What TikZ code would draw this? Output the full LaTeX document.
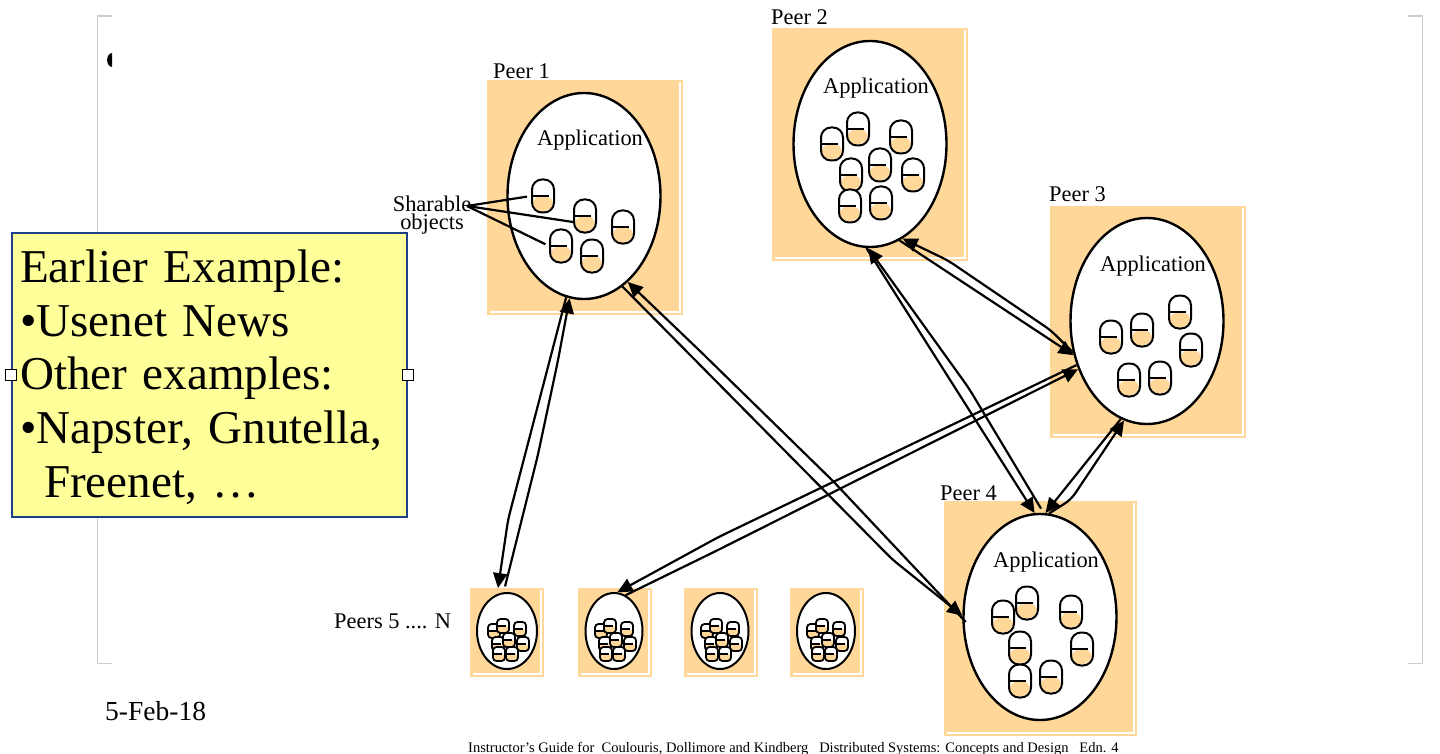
\documentclass[tikz,border=0pt]{standalone}
\usepackage{fontspec}
\setmainfont{Liberation Serif}
\usepackage{tikz}
\usetikzlibrary{arrows.meta,positioning,calc,shapes.geometric}
\definecolor{peerorange}{HTML}{FFD899}
\definecolor{notefill}{HTML}{FFFF99}
\definecolor{noteline}{HTML}{1F3F87}
\definecolor{framegray}{HTML}{CCCCCC}
\tikzset{
  peerbox/.style={fill=peerorange, inner sep=0pt,
    path picture={\draw[white, line width=1.2pt]
      ([xshift=-3pt,yshift=-2pt]path picture bounding box.north east) --
      ([xshift=-3pt,yshift=3pt]path picture bounding box.south east) --
      ([xshift=3pt,yshift=3pt]path picture bounding box.south west);}},
  peerblob/.style={draw, ellipse, fill=white, line width=2.4pt, inner sep=0pt},
  pill/.style={draw, fill=white, line width=2pt, inner sep=0pt, rounded corners=10pt,
    minimum width=22pt, minimum height=33pt,
    path picture={
      \fill[peerorange] (path picture bounding box.west) -- (path picture bounding box.east)
        -- ($(path picture bounding box.east)!0.55!(path picture bounding box.south east)$)
        -- ($(path picture bounding box.south)!0.5!(path picture bounding box.south east)$)
        -- (path picture bounding box.south west) -- cycle;
      \draw[line width=1.9pt] (path picture bounding box.west) --
        ($(path picture bounding box.west)!0.78!(path picture bounding box.east)$);}},
  minipill/.style={pill, line width=1.8pt, rounded corners=3.5pt, minimum width=12pt, minimum height=14pt},
  link/.style={-{Triangle[length=15pt,width=14pt]}, line width=2.2pt, rounded corners=7pt},
  pointer/.style={line width=2.2pt},
  lbl/.style={font=\fontsize{22.4}{18}\selectfont, align=center, inner sep=0pt},
  notebox/.style={draw=noteline, fill=notefill, line width=2pt, inner xsep=8pt, inner ysep=0pt, text width=379pt,
    minimum height=284pt, align=left, font=\fontsize{47.1}{53.8}\selectfont},
  handle/.style={draw, fill=white, line width=0.8pt, minimum size=11pt, inner sep=0pt},
  frameline/.style={draw=framegray, line width=1.8pt}
}
\begin{document}
\begin{tikzpicture}[x=1pt,y=-1pt]
  \useasboundingbox (0,0) rectangle (1440,754);
  % slide frame and the cut off bullet
  \draw[frameline] (112,16) -- (97.5,16) -- (97.5,663.5) -- (112,663.5);
  \draw[frameline] (1408,16) -- (1422.5,16) -- (1422.5,663.5) -- (1408,663.5);
  \fill (112,53) .. controls (105.5,54) and (105.5,66) .. (112,67) -- cycle;
  % the four big peers
  \foreach \n/\bx/\by/\bw/\bh/\ex/\ey in {1/585/197.5/196/235/584/196, 2/870/144.5/196/233/870/144,
      3/1148/322/196/232/1147/321, 4/1040.5/618.5/193/235/1040/617}{
    \node[peerbox, minimum width=\bw pt, minimum height=\bh pt] (box\n) at (\bx,\by) {};
    \node[peerblob, minimum width=153pt, minimum height=206pt] (p\n) at (\ex,\ey) {};
    \node[lbl, anchor=base] (app\n) at ([xshift=6pt,yshift=50pt]p\n.center) {Application};
  }
  \node[lbl, anchor=base west] (peer1) at (493,79) {Peer 1};
  \node[lbl, anchor=base west] (peer2) at (771,25) {Peer 2};
  \node[lbl, anchor=base west] (peer3) at (1049,202) {Peer 3};
  \node[lbl, anchor=base west] (peer4) at (940,500) {Peer 4};
  % sharable objects inside each peer
  \foreach \x/\y [count=\i] in {543/196, 585/216, 623/227, 561/246, 592/256}
    \node[pill] (a\i) at (\x,\y) {};
  \foreach \x/\y [count=\i] in {832/144, 858/129, 901/137, 851/175, 880/165, 913/175, 850/206, 881/203}
    \node[pill] (b\i) at (\x,\y) {};
  \foreach \x/\y [count=\i] in {1111/337, 1142/330, 1180/312, 1191/350, 1129/380, 1160/378}
    \node[pill] (c\i) at (\x,\y) {};
  \foreach \x/\y [count=\i] in {1003/617, 1027/603, 1071/612, 1020/648, 1082/649, 1020/681, 1051/677}
    \node[pill] (d\i) at (\x,\y) {};
  % the small peers
  \foreach \n/\bx/\ex/\ew in {1/507/507/60, 2/615/614/57, 3/721/720/57, 4/827/826/58}{
    \node[peerbox, minimum width=74pt, minimum height=89pt] (sbox\n) at (\bx,632.5) {};
    \node[peerblob, line width=2pt, minimum width=\ew pt, minimum height=76pt] (s\n) at (\ex,631) {};
    \foreach \dx/\dy [count=\i] in {-13/0, -4/-5, 13/-2, -9/13, 2/9, 16/13, -8/23, 5/23}
      \node[minipill] (s\n-\i) at (\ex+\dx,631+\dy) {};
  }
  \node[lbl, anchor=base west] (rest) at (334,628) {Peers 5 .... N};
  % pointers from the label to the objects
  \node[lbl] (shr) at (432,215) {Sharable\\objects};
  \coordinate (shrtip) at (467,206);
  \draw[pointer, shorten >=4pt] (shrtip) -- (a1.west);
  \draw[pointer] (shrtip) -- ([yshift=-6pt]a2.west);
  \draw[pointer, shorten >=4pt] (shrtip) -- (a4.west);
  % links, one line for each direction
  \draw[link, shorten >=6pt] (p1.-100) -- ++(-58,222) -- (s1.105);
  \draw[link, shorten <=6pt] (s1.95) -- ++(34,-136) -- ++(20,-94) -- (p1.-98);
  \draw[link] (p1.-67) -- ++(270,273) -- (p4.179);
  \draw[link, shorten <=-5pt] (p4.181) -- ++(-128,-136) -- ++(-135,-132) -- (p1.-63);
  \draw[link] (p3.212) -- ++(-358,172) -- (s2.85);
  \draw[link] (s2.72) -- ++(90,-44) -- (p3.215);
  \draw[link] (p2.-92) -- (p4.93);
  \draw[link, shorten <=5pt] (p4.88) -- ++(-75,-125) -- (p2.-91);
  \draw[link] (p3.203) -- ++(-22,-22) -- ++(-103,-70) -- (p2.-71);
  \draw[link] (p2.-73) -- (p3.205);
  \draw[link] (p3.255) -- (p4.87);
  \draw[link] (p4.85) -- ++(22,-14) -- (p3.257);
  % note on top
  \node[notebox] (note) at (209.5,375) {\rule{0pt}{37pt}Earlier Example:\\
    •Usenet News\\Other examples:\\•Napster, Gnutella,\\\hspace*{24pt}Freenet, …};
  \node[handle] (hleft) at (note.west) {};
  \node[handle] (hright) at (note.east) {};
  % dates and footer
  \node[anchor=base west, inner sep=0pt, font=\fontsize{27.5}{30}\selectfont] (date) at (105,720) {5-Feb-18};
  \node[anchor=base west, inner sep=0pt, font=\fontsize{14.5}{16}\selectfont] (foot) at (468,752)
    {Instructor’s Guide for\ \ Coulouris, Dollimore and Kindberg\ \ \ Distributed Systems: Concepts and Design\ \ \ Edn. 4};
\end{tikzpicture}
\end{document}
